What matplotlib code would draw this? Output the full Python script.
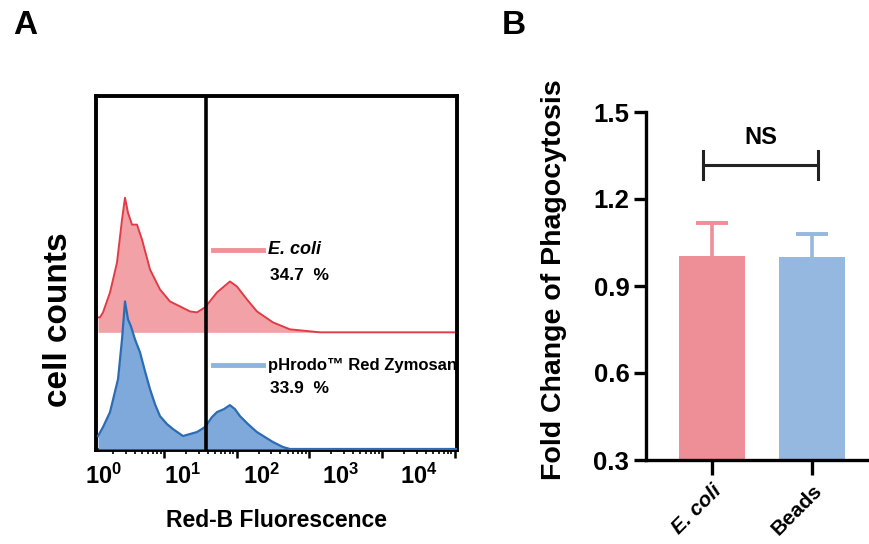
import matplotlib
matplotlib.use("Agg")
import matplotlib.pyplot as plt
import numpy as np

plt.rcParams['font.family'] = ['Liberation Sans', 'DejaVu Sans']
plt.rcParams['mathtext.fontset'] = 'custom'
plt.rcParams['mathtext.rm'] = 'Liberation Sans:bold'
plt.rcParams['mathtext.bf'] = 'Liberation Sans:bold'
plt.rcParams['mathtext.it'] = 'Liberation Sans:bold:italic'

# ---------------- data ----------------
# Panel A: flow histograms, x in log10 decades of channel, y in counts (a.u.)
ecoli_x = [0.093, 0.120, 0.162, 0.258, 0.354, 0.423, 0.464, 0.505, 0.560, 0.629, 0.698,
           0.808, 0.945, 1.082, 1.220, 1.357, 1.454, 1.564, 1.729, 1.907, 2.003, 2.141,
           2.278, 2.498, 2.732, 3.144, 5.027]
ecoli_y = [15, 15, 20, 40, 70, 113, 135, 120, 108, 108, 93, 63, 43, 31, 26, 21, 20, 25,
           40, 51, 46, 33, 21, 10, 3, 0, 0]
zymo_x = [0.093, 0.162, 0.258, 0.368, 0.423, 0.464, 0.505, 0.546, 0.601, 0.670, 0.739,
          0.808, 0.876, 0.945, 1.041, 1.124, 1.261, 1.357, 1.454, 1.564, 1.660, 1.729,
          1.825, 1.907, 1.976, 2.045, 2.155, 2.278, 2.388, 2.498, 2.636, 2.732, 5.027]
zymo_y = [13, 22, 37, 70, 110, 148, 130, 123, 110, 97, 78, 60, 45, 33, 25, 20, 13, 15,
          17, 22, 32, 37, 40, 44, 40, 33, 25, 17, 12, 7, 2, 0, 0]
ecoli_offset = 117
gate_x = 1.575
ecoli_pct = "34.7  %"
zymo_pct = "33.9  %"
decade_labels = ["$\\mathbf{10^{0}}$", "$\\mathbf{10^{1}}$", "$\\mathbf{10^{2}}$",
                 "$\\mathbf{10^{3}}$", "$\\mathbf{10^{4}}$"]

# Panel B: bar chart
categories = ["E. coli", "Beads"]
means = [1.003, 1.000]
errors = [0.114, 0.079]
ns_level = 1.317
ns_tick = 0.047

# ---------------- colors ----------------
red_fill = '#F2A2A7'
red_line = '#E23B47'
blue_fill = '#7FA9DA'
blue_line = '#2B6CB4'
bar_colors = ['#EE8F97', '#94B8DF']

fig = plt.figure(figsize=(8.7, 5.44), dpi=100)

# ---------------- Panel A ----------------
axA = fig.add_axes([96.5/870, 1-450/544, 360.5/870, 354/544])
ex = np.array(ecoli_x); ey = np.array(ecoli_y) + ecoli_offset
zx = np.array(zymo_x); zy = np.array(zymo_y)
axA.fill_between(ex, ecoli_offset, ey, color=red_fill, lw=0, zorder=1)
axA.plot(ex, ey, color=red_line, lw=1.4, zorder=2)
axA.fill_between(zx, 0, zy, color=blue_fill, lw=0, zorder=3)
axA.plot(zx, zy, color=blue_line, lw=1.6, zorder=4)
axA.axvline(gate_x, color='black', lw=2.6, zorder=5)
axA.set_xlim(0.072, 5.03)
axA.set_ylim(-1, 354)
for s in axA.spines.values():
    s.set_linewidth(2.8)
axA.set_yticks([])
major = [1, 2, 3, 4, 5]
minor = [k + np.log10(m) for k in range(0, 5) for m in range(2, 10)]
axA.set_xticks(major)
axA.set_xticks(minor, minor=True)
axA.tick_params(axis='x', which='major', length=6, width=1.8, labelbottom=False)
axA.tick_params(axis='x', which='minor', length=3, width=1.2, labelbottom=False)
axA.set_ylabel("cell counts", fontsize=24, fontweight='bold')
axA.yaxis.set_label_coords((74-96.5)/360.5, (450-320)/354)

# decade labels on secondary axis
axL = axA.twiny()
axL.set_xlim((96.5-104)/78.7, (457-104)/78.7)
axL.xaxis.set_ticks_position('bottom')
axL.set_xticks(range(5))
axL.set_xticklabels(decade_labels, fontsize=17)
axL.tick_params(axis='x', length=0, pad=10)
for s in axL.spines.values():
    s.set_visible(False)
axL.set_xlabel("Red-B Fluorescence", fontsize=16.5, fontweight='bold', labelpad=14)
axL.xaxis.set_label_position('bottom')

# legend-like labels
tr = axA.transAxes
axA.plot([0.323, 0.462], [0.565, 0.565], color='#EE9298', lw=3.5, transform=tr, clip_on=False, zorder=6)
axA.text(0.475, 0.565, "E. coli", transform=tr, fontsize=13, fontweight='bold',
         style='italic', va='center', ha='left')
axA.text(0.482, 0.494, ecoli_pct, transform=tr, fontsize=12.5, fontweight='bold', va='center', ha='left')
axA.plot([0.323, 0.462], [0.240, 0.240], color='#8CB4DE', lw=3.5, transform=tr, clip_on=False, zorder=6)
axA.text(0.475, 0.240, "pHrodo™ Red Zymosan", transform=tr, fontsize=12, fontweight='bold',
         va='center', ha='left')
axA.text(0.482, 0.175, zymo_pct, transform=tr, fontsize=12.5, fontweight='bold', va='center', ha='left')

fig.text(13/870, 1-25/544, "A", fontsize=24, fontweight='bold', ha='left', va='center')
fig.text(502/870, 1-25/544, "B", fontsize=24, fontweight='bold', ha='left', va='center')

# ---------------- Panel B ----------------
axB = fig.add_axes([646/870, 1-460/544, 222/870, 348/544])
xpos = np.arange(len(categories))
axB.bar(xpos, np.array(means) - 0.3, bottom=0.3, width=0.66, color=bar_colors, zorder=2)
for i in range(len(categories)):
    eb = axB.errorbar(xpos[i], means[i], yerr=[[0], [errors[i]]], fmt='none',
                      ecolor=bar_colors[i], elinewidth=2.6, capsize=11.5, capthick=2.8, zorder=1)
    eb[1][0].set_visible(False)
axB.set_xlim(-0.66, 1.56)
axB.set_ylim(0.3, 1.5)
axB.set_yticks([0.3, 0.6, 0.9, 1.2, 1.5])
axB.set_yticklabels(["0.3", "0.6", "0.9", "1.2", "1.5"])
axB.set_xticks(xpos)
axB.set_xticklabels(categories, rotation=45, ha='right', va='top', rotation_mode='anchor')
axB.get_xticklabels()[0].set_style('italic')
for lab in axB.get_xticklabels():
    lab.set_fontweight('bold'); lab.set_fontsize(15)
for lab in axB.get_yticklabels():
    lab.set_fontweight('bold'); lab.set_fontsize(18.5)
axB.spines['top'].set_visible(False)
axB.spines['right'].set_visible(False)
axB.spines['left'].set_linewidth(2.4)
axB.spines['bottom'].set_linewidth(2.4)
axB.tick_params(axis='y', length=9, width=2.4, pad=3)
axB.tick_params(axis='x', length=11, width=2.4, pad=4)
axB.set_ylabel("Fold Change of Phagocytosis", fontsize=20.5, fontweight='bold')
axB.yaxis.set_label_coords((567-646)/222, (460-280)/348)

# significance bracket
x0, x1 = -0.09, 1.06
axB.plot([x0, x1], [ns_level, ns_level], color='#222222', lw=2.2, clip_on=False)
axB.plot([x0, x0], [ns_level - ns_tick, ns_level + ns_tick], color='#222222', lw=2.2, clip_on=False)
axB.plot([x1, x1], [ns_level - ns_tick, ns_level + ns_tick], color='#222222', lw=2.2, clip_on=False)
axB.text((x0 + x1) / 2, ns_level + 0.055, "NS", fontsize=17, fontweight='bold',
         ha='center', va='bottom')

fig.savefig("out.png", dpi=100)
